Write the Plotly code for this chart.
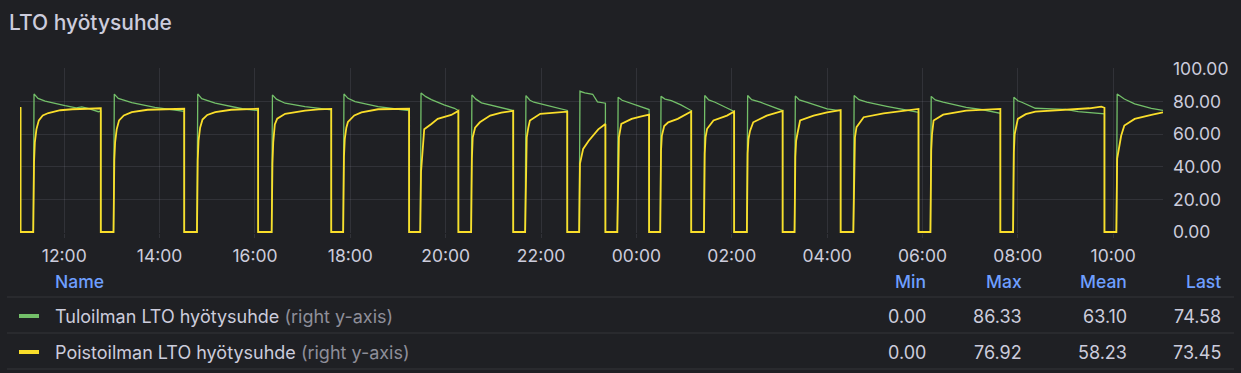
import plotly.graph_objects as go

# ---------------- data ----------------
DAYS = {"14": "2024-03-14", "15": "2024-03-15"}

tulo_name = "Tuloilman LTO hyötysuhde"
poisto_name = "Poistoilman LTO hyötysuhde"

tulo_points = [
    ("14 11:04:20", 76.0), ("14 11:05", 75.8), ("14 11:05", 0),
    ("14 11:21", 0), ("14 11:22", 84.7), ("14 11:27", 82.0), ("14 11:36", 80.3), ("14 11:50", 78.5), ("14 12:01", 77.5),
    ("14 12:15", 76.2), ("14 12:22", 76.8), ("14 12:30", 75.8), ("14 12:40", 74.5), ("14 12:43", 73.8), ("14 12:46", 74.2), ("14 12:46", 0),
    ("14 13:02", 0), ("14 13:03", 84.6), ("14 13:08", 82.0), ("14 13:25", 79.4), ("14 13:54", 76.5), ("14 14:15", 75.3), ("14 14:31", 74.0), ("14 14:31", 0),
    ("14 14:47", 0), ("14 14:48", 84.7), ("14 14:53", 81.8), ("14 15:10", 79.0), ("14 15:44", 75.6), ("14 16:04", 74.5), ("14 16:04", 0),
    ("14 16:21", 0), ("14 16:22", 84.1), ("14 16:27", 81.5), ("14 16:38", 79.0), ("14 17:03", 76.9), ("14 17:20", 76.0), ("14 17:36", 75.0), ("14 17:36", 0),
    ("14 17:51", 0), ("14 17:52", 84.7), ("14 17:57", 82.0), ("14 18:06", 80.0), ("14 18:35", 76.9), ("14 18:55", 75.6), ("14 19:14", 74.5), ("14 19:14", 0),
    ("14 19:28", 0), ("14 19:29", 85.3), ("14 19:35", 83.0), ("14 19:42", 81.2), ("14 19:58", 78.0), ("14 20:11", 75.9), ("14 20:16", 74.5), ("14 20:16", 0),
    ("14 20:32", 0), ("14 20:33", 84.1), ("14 20:38", 81.5), ("14 20:45", 79.2), ("14 21:09", 76.5), ("14 21:25", 74.5), ("14 21:25", 0),
    ("14 21:40", 0), ("14 21:41", 83.7), ("14 21:46", 80.8), ("14 21:51", 79.6), ("14 22:16", 76.5), ("14 22:33", 74.6), ("14 22:33", 0),
    ("14 22:48", 0), ("14 22:49", 86.33), ("14 22:55", 85.3), ("14 23:05", 84.5), ("14 23:08", 82.5), ("14 23:11", 79.8), ("14 23:21", 79.0), ("14 23:21", 0),
    ("14 23:36", 0), ("14 23:37", 82.6), ("14 23:42", 80.8), ("14 23:49", 79.6), ("15 00:06", 77.1), ("15 00:16", 75.1), ("15 00:16", 0),
    ("15 00:30", 0), ("15 00:31", 83.2), ("15 00:36", 81.5), ("15 00:44", 80.6), ("15 00:56", 78.0), ("15 01:09", 74.5), ("15 01:09", 0),
    ("15 01:25", 0), ("15 01:26", 83.7), ("15 01:31", 81.0), ("15 01:39", 79.6), ("15 01:52", 76.5), ("15 02:03", 74.0), ("15 02:03", 0),
    ("15 02:19", 0), ("15 02:20", 83.7), ("15 02:25", 81.2), ("15 02:36", 79.6), ("15 02:53", 76.5), ("15 03:04", 74.5), ("15 03:04", 0),
    ("15 03:19", 0), ("15 03:20", 83.5), ("15 03:25", 81.0), ("15 03:34", 79.6), ("15 04:00", 75.5), ("15 04:17", 74.4), ("15 04:17", 0),
    ("15 04:33", 0), ("15 04:34", 83.7), ("15 04:40", 81.2), ("15 04:50", 79.6), ("15 05:15", 77.1), ("15 05:32", 75.5), ("15 05:50", 74.0), ("15 05:55", 73.4), ("15 05:55", 0),
    ("15 06:10", 0), ("15 06:11", 83.2), ("15 06:16", 81.0), ("15 06:26", 79.6), ("15 06:55", 76.5), ("15 07:16", 75.0), ("15 07:38", 72.8), ("15 07:38", 0),
    ("15 07:54", 0), ("15 07:55", 82.6), ("15 08:00", 80.5), ("15 08:05", 79.6), ("15 08:22", 75.9), ("15 08:43", 75.5), ("15 09:00", 75.2), ("15 09:16", 73.9), ("15 09:49", 72.5), ("15 09:49", 0),
    ("15 10:04", 0), ("15 10:05", 84.7), ("15 10:10", 83.0), ("15 10:14", 81.6), ("15 10:27", 78.6), ("15 10:48", 75.9), ("15 11:02:40", 74.58),
]

poisto_points = [
    ("14 11:04:20", 76.1), ("14 11:05", 76.1), ("14 11:05", 0),
    ("14 11:21", 0), ("14 11:22", 43), ("14 11:23", 55), ("14 11:25", 63), ("14 11:28", 68.5), ("14 11:33", 71.5), ("14 11:40", 73.0),
    ("14 11:55", 74.7), ("14 12:10", 75.3), ("14 12:30", 75.6), ("14 12:46", 75.9), ("14 12:46", 0),
    ("14 13:02", 0), ("14 13:03", 44), ("14 13:04", 55), ("14 13:06", 63), ("14 13:09", 68.5), ("14 13:15", 71.5), ("14 13:25", 73.5), ("14 13:45", 75.0), ("14 14:10", 75.4), ("14 14:31", 75.6), ("14 14:31", 0),
    ("14 14:47", 0), ("14 14:48", 44), ("14 14:49", 56), ("14 14:51", 64), ("14 14:54", 69), ("14 15:00", 71.8), ("14 15:10", 73.5), ("14 15:30", 75.0), ("14 16:04", 75.6), ("14 16:04", 0),
    ("14 16:21", 0), ("14 16:22", 42), ("14 16:23", 55), ("14 16:25", 66), ("14 16:28", 69.5), ("14 16:38", 72.5), ("14 17:03", 74.5), ("14 17:20", 75.2), ("14 17:36", 75.5), ("14 17:36", 0),
    ("14 17:51", 0), ("14 17:52", 46), ("14 17:53", 57), ("14 17:55", 64), ("14 17:57", 67.5), ("14 18:05", 71.5), ("14 18:14", 73.4), ("14 18:35", 75.3), ("14 19:14", 75.6), ("14 19:14", 0),
    ("14 19:28", 0), ("14 19:29", 37), ("14 19:31", 53), ("14 19:33", 63), ("14 19:42", 66.3), ("14 19:50", 69.4), ("14 20:07", 71.8), ("14 20:16", 74.3), ("14 20:16", 0),
    ("14 20:32", 0), ("14 20:33", 45), ("14 20:34", 58), ("14 20:37", 64), ("14 20:43", 67.3), ("14 20:56", 71.4), ("14 21:10", 73.3), ("14 21:25", 74.3), ("14 21:25", 0),
    ("14 21:40", 0), ("14 21:41", 47), ("14 21:42", 58), ("14 21:44", 64), ("14 21:46", 68.4), ("14 21:59", 72.5), ("14 22:15", 73.2), ("14 22:33", 73.8), ("14 22:33", 0),
    ("14 22:48", 0), ("14 22:49", 42), ("14 22:51", 47), ("14 22:53", 51), ("14 23:00", 56), ("14 23:07", 60), ("14 23:12", 63), ("14 23:21", 66.3), ("14 23:21", 0),
    ("14 23:36", 0), ("14 23:37", 50), ("14 23:38", 58), ("14 23:41", 66.3), ("14 23:54", 69.4), ("15 00:05", 70.8), ("15 00:16", 72.0), ("15 00:16", 0),
    ("15 00:30", 0), ("15 00:31", 50), ("15 00:32", 59), ("15 00:35", 65), ("15 00:40", 67.3), ("15 00:52", 69.4), ("15 01:09", 73.9), ("15 01:09", 0),
    ("15 01:25", 0), ("15 01:26", 48), ("15 01:27", 58), ("15 01:29", 63.3), ("15 01:37", 68.4), ("15 01:54", 71.4), ("15 02:03", 73.9), ("15 02:03", 0),
    ("15 02:19", 0), ("15 02:20", 48), ("15 02:21", 57), ("15 02:23", 62), ("15 02:27", 67.3), ("15 02:44", 71.4), ("15 03:04", 74.3), ("15 03:04", 0),
    ("15 03:19", 0), ("15 03:20", 46), ("15 03:21", 56), ("15 03:23", 61.2), ("15 03:26", 68.4), ("15 03:43", 71.4), ("15 04:00", 73.4), ("15 04:17", 74.8), ("15 04:17", 0),
    ("15 04:33", 0), ("15 04:34", 48), ("15 04:35", 58), ("15 04:37", 64.3), ("15 04:46", 70.4), ("15 05:11", 72.8), ("15 05:32", 74.0), ("15 05:55", 75.5), ("15 05:55", 0),
    ("15 06:10", 0), ("15 06:11", 50), ("15 06:12", 60), ("15 06:14", 68.4), ("15 06:26", 72.0), ("15 06:55", 74.5), ("15 07:15", 75.0), ("15 07:38", 75.5), ("15 07:38", 0),
    ("15 07:54", 0), ("15 07:55", 49), ("15 07:56", 60), ("15 08:00", 69.4), ("15 08:10", 72.3), ("15 08:22", 73.9), ("15 09:03", 75.3), ("15 09:30", 75.9), ("15 09:45", 76.92), ("15 09:49", 76.2), ("15 09:49", 0),
    ("15 10:04", 0), ("15 10:05", 45), ("15 10:08", 55), ("15 10:10", 59), ("15 10:14", 65.3), ("15 10:27", 69.4), ("15 10:48", 71.8), ("15 11:02:40", 73.45),
]

y_ticks = [0, 20, 40, 60, 80, 100]
x_range = ["2024-03-14 11:04:20", "2024-03-15 11:02:40"]

stat_names = ["Min", "Max", "Mean", "Last"]
tulo_stats = [0.00, 86.33, 63.10, 74.58]
poisto_stats = [0.00, 76.92, 58.23, 73.45]

# ---------------- styling ----------------
BG = "#1f2024"
TXT = "#ccccdc"
GRID = "rgba(204,204,220,0.11)"
BLUE = "#6e9fff"
GREEN = "#73BF69"
YELLOW = "#FADE2A"
FONT = "Inter"

W, H = 1241, 373
L, R, T, B = 20, 78, 68, 140
PW, PH = W - L - R, H - T - B


def ts(s):
    d, t = s.split(" ")
    if t.count(":") == 1:
        t += ":00"
    return f"{DAYS[d]} {t}"


def xp(px):
    return (px - L) / PW


def yp(py):
    return (H - B - py) / PH


fig = go.Figure()
fig.add_trace(go.Scatter(
    x=[ts(t) for t, _ in tulo_points], y=[v for _, v in tulo_points],
    mode="lines", name=tulo_name, line=dict(color=GREEN, width=1.3), hoverinfo="skip"))
fig.add_trace(go.Scatter(
    x=[ts(t) for t, _ in poisto_points], y=[v for _, v in poisto_points],
    mode="lines", name=poisto_name, line=dict(color=YELLOW, width=1.8), hoverinfo="skip"))

fig.update_layout(
    width=W, height=H, margin=dict(l=L, r=R, t=T, b=B, pad=0),
    paper_bgcolor=BG, plot_bgcolor=BG, showlegend=False,
    font=dict(family=FONT, color=TXT, size=17),
    xaxis=dict(type="date", range=x_range, tickformat="%H:%M", dtick=7200000,
               tick0="2024-03-14 12:00", showgrid=True, gridcolor=GRID, gridwidth=1,
               ticks="outside", ticklen=4, tickcolor=GRID, zeroline=False, showline=False,
               tickfont=dict(family=FONT, size=17.5, color=TXT), ticklabelstandoff=3),
    yaxis=dict(side="right", range=[-0.6, 100.6], tickvals=y_ticks, tickformat=".2f",
               showgrid=True, gridcolor=GRID, gridwidth=1, zeroline=False, showline=False,
               ticks="", tickfont=dict(family=FONT, size=17.5, color=TXT), ticklabelstandoff=9),
)

ann = []
# panel title
ann.append(dict(text="LTO hyötysuhde", x=xp(7), y=yp(22), xref="paper", yref="paper",
                xanchor="left", yanchor="middle", showarrow=False,
                font=dict(family=FONT, size=21, color=TXT, weight=500)))
# legend table header
HDR = 17.5
ROW = 18
ann.append(dict(text="Name", x=xp(53), y=yp(281), xref="paper", yref="paper",
                xanchor="left", yanchor="middle", showarrow=False,
                font=dict(family=FONT, size=HDR, color=BLUE, weight=500)))
col_right = [928, 1024, 1129, 1223]
for name, cx in zip(stat_names, col_right):
    ann.append(dict(text=name, x=xp(cx), y=yp(281), xref="paper", yref="paper",
                    xanchor="right", yanchor="middle", showarrow=False,
                    font=dict(family=FONT, size=HDR, color=BLUE, weight=500)))

rows = [(tulo_name, tulo_stats, GREEN, 316), (poisto_name, poisto_stats, YELLOW, 352)]
shapes = []
for name, stats, col, ry in rows:
    ann.append(dict(text=f"{name} <span style='color:#8e8e99'>(right y-axis)</span>",
                    x=xp(53), y=yp(ry), xref="paper", yref="paper",
                    xanchor="left", yanchor="middle", showarrow=False,
                    font=dict(family=FONT, size=ROW, color=TXT)))
    for v, cx in zip(stats, col_right):
        ann.append(dict(text=f"{v:.2f}", x=xp(cx), y=yp(ry), xref="paper", yref="paper",
                        xanchor="right", yanchor="middle", showarrow=False,
                        font=dict(family=FONT, size=ROW, color=TXT)))
    shapes.append(dict(type="rect", xref="paper", yref="paper",
                       x0=xp(19), x1=xp(39), y0=yp(ry - 2), y1=yp(ry + 2),
                       fillcolor=col, line=dict(width=0)))

for ly in [297, 333, 369]:
    shapes.append(dict(type="line", xref="paper", yref="paper",
                       x0=xp(7), x1=xp(1234), y0=yp(ly), y1=yp(ly),
                       line=dict(color="rgba(204,204,220,0.12)", width=1)))

fig.update_layout(annotations=ann, shapes=shapes)
fig.write_html("out.html")
